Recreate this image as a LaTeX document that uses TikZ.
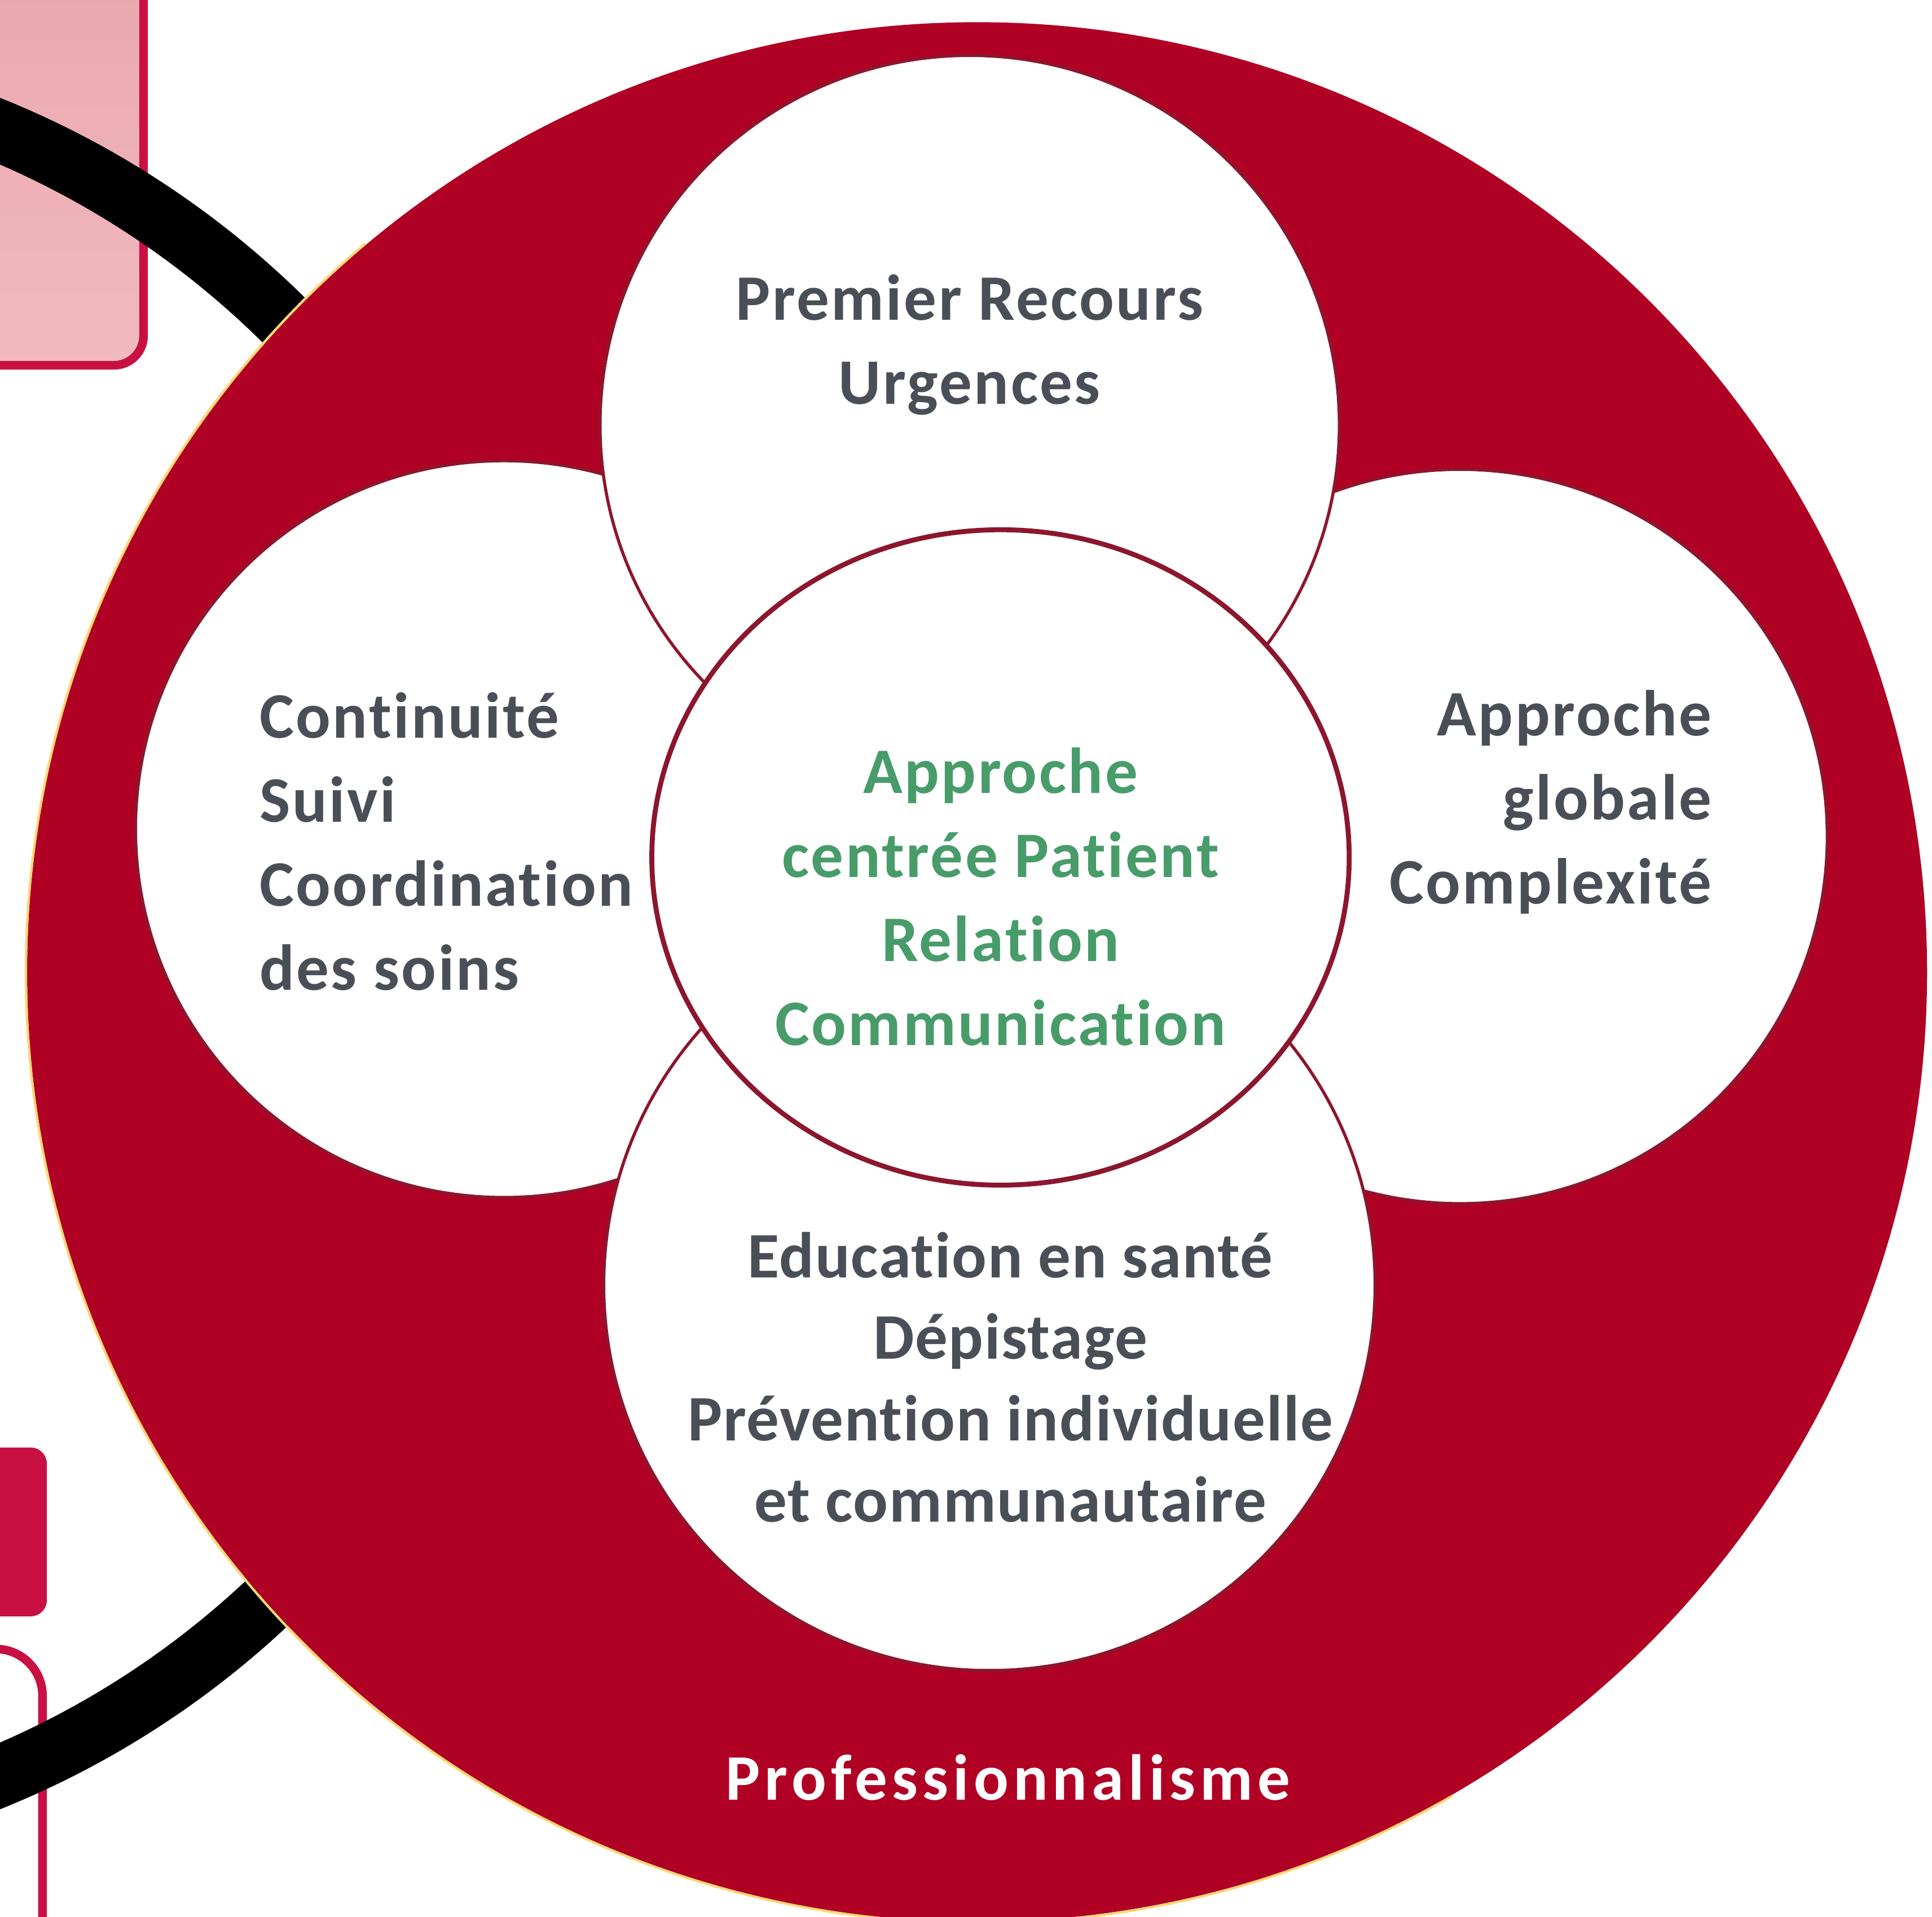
\documentclass[tikz,border=0pt]{standalone}
\usepackage{fontspec}
\setmainfont{Carlito}
\newfontfamily\themefont{Carlito}[Ligatures=NoCommon, LetterSpace=3]
\newfontfamily\santefont{Carlito}[Ligatures=NoCommon, LetterSpace=1.5]
\newfontfamily\profont{Carlito}[Ligatures=NoCommon, LetterSpace=7]

\definecolor{discred}{RGB}{176,0,36}
\definecolor{edgered}{RGB}{140,22,45}
\definecolor{textgray}{RGB}{74,79,87}
\definecolor{textgreen}{RGB}{72,156,106}
\definecolor{tabcrimson}{RGB}{200,16,66}
\definecolor{tabpinktop}{RGB}{234,166,174}
\definecolor{tabpinkbot}{RGB}{241,186,191}
\definecolor{rimgold}{RGB}{250,215,120}

\tikzset{
  bubble/.style={draw=edgered, fill=white, line width=0.25mm},
  pole/.style={draw=edgered, fill=white, line width=0.4mm},
  theme/.style={font=\themefont\bfseries\fontsize{15}{19.4}\selectfont, text=textgray, inner sep=0pt},
}

\begin{document}
\begin{tikzpicture}[x=0.1mm, y=-0.1mm]
\clip (0,0) rectangle (1568,1556);

% tabs and ring behind the disc
\draw[tabcrimson, line width=0.7mm, rounded corners=2.4mm, top color=tabpinktop, bottom color=tabpinkbot] (-40,-40) rectangle (116.5,296.5);
\fill[tabcrimson, rounded corners=1.3mm] (-40,1175) rectangle (38,1312);
\draw[tabcrimson, line width=0.7mm, rounded corners=3.8mm, fill=white] (-40,1338.5) rectangle (34.5,1620);
\draw[line width=5mm] (-278,774) circle (723);

% the disc
\fill[discred] (793,789) circle (771);
\draw[rimgold, line width=0.2mm] (793,789) ++(60:772) arc[start angle=60, end angle=230, radius=772];

\draw[bubble] (409,673) circle (299);
\draw[bubble] (1185,679) circle (298);
\draw[bubble] (787,345) circle (300);
\draw[bubble] (803,1043) circle (313);
\draw[pole] (812,696) ellipse [x radius=283, y radius=266];

\node[theme, align=center] (recours) at (787,280) {Premier Recours\\Urgences};
\node[theme, align=left, anchor=west] (suivi) at (210,683) {Continuité\\Suivi\\Coordination\\des soins};
\node[theme, align=right, anchor=east] (globale) at (1390,651) {Approche\\globale\\Complexité};
\node[theme, align=center, text=textgreen] (patient) at (812,728) {Approche\\centrée Patient\\Relation\\Communication};
\node[theme, align=center, font=\santefont\bfseries\fontsize{15}{18.8}\selectfont] (sante) at (820,1118) {Education en santé\\Dépistage\\Prévention individuelle\\et communautaire};
\node[theme, text=white, font=\profont\bfseries\fontsize{15}{19.4}\selectfont] (pro) at (818,1443) {Professionnalisme};
\end{tikzpicture}
\end{document}
